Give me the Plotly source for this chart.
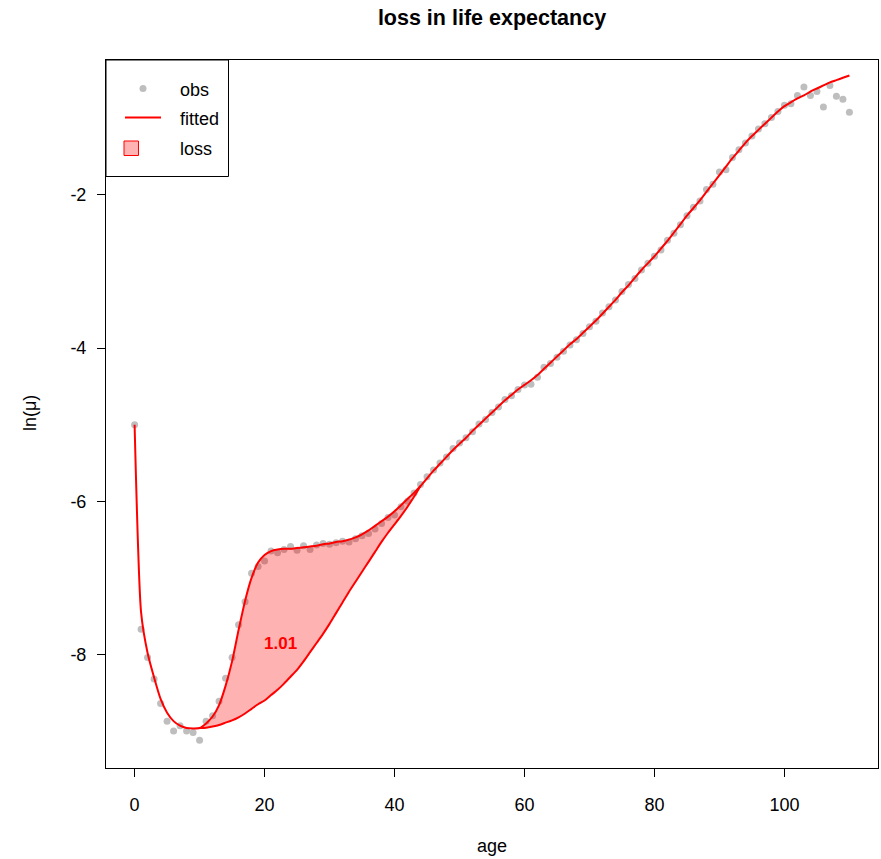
import plotly.graph_objects as go

# ---------------- data ----------------
ages = list(range(0, 111))

obs = [-5.00, -7.67, -8.04, -8.32, -8.64, -8.87, -9.00, -8.93, -9.00, -9.02,
       -9.12, -8.87, -8.80, -8.61, -8.31, -8.04, -7.61, -7.31, -6.94, -6.85,
       -6.78, -6.65, -6.67, -6.63, -6.59, -6.64, -6.58, -6.63, -6.57, -6.55,
       -6.56, -6.54, -6.52, -6.53, -6.49, -6.45, -6.42, -6.36, -6.29, -6.21,
       -6.18, -6.07, -6.00, -5.89, -5.78, -5.68, -5.59, -5.50, -5.42, -5.31,
       -5.24, -5.17, -5.09, -4.99, -4.93, -4.84, -4.77, -4.67, -4.62, -4.54,
       -4.48, -4.47, -4.38, -4.25, -4.20, -4.12, -4.04, -3.96, -3.89, -3.81,
       -3.72, -3.65, -3.54, -3.46, -3.37, -3.26, -3.17, -3.09, -2.98, -2.89,
       -2.80, -2.72, -2.59, -2.50, -2.39, -2.27, -2.16, -2.08, -1.93, -1.86,
       -1.70, -1.67, -1.51, -1.41, -1.32, -1.23, -1.14, -1.07, -0.99, -0.91,
       -0.83, -0.81, -0.70, -0.59, -0.70, -0.65, -0.85, -0.57, -0.71, -0.75,
       -0.92]

fitted = [-5.00, -7.45, -7.98, -8.30, -8.58, -8.76, -8.87, -8.93, -8.96, -8.965,
          -8.96, -8.90, -8.81, -8.66, -8.41, -8.09, -7.68, -7.30, -7.00, -6.80,
          -6.70, -6.65, -6.63, -6.62, -6.62, -6.61, -6.60, -6.59, -6.58, -6.56,
          -6.55, -6.53, -6.52, -6.50, -6.47, -6.43, -6.38, -6.32, -6.26, -6.20,
          -6.13, -6.05, -5.97, -5.89, -5.80, -5.70, -5.60, -5.51, -5.42, -5.33,
          -5.25, -5.17, -5.08, -5.00, -4.92, -4.84, -4.76, -4.68, -4.61, -4.54,
          -4.48, -4.42, -4.35, -4.27, -4.19, -4.11, -4.03, -3.95, -3.88, -3.80,
          -3.72, -3.64, -3.55, -3.46, -3.37, -3.27, -3.18, -3.08, -2.98, -2.89,
          -2.80, -2.70, -2.60, -2.49, -2.38, -2.27, -2.17, -2.07, -1.96, -1.85,
          -1.74, -1.63, -1.52, -1.42, -1.32, -1.23, -1.15, -1.07, -0.99, -0.91,
          -0.84, -0.79, -0.74, -0.70, -0.65, -0.61, -0.57, -0.53, -0.50, -0.47,
          -0.44]

# counterfactual (no-hump) curve over the loss region
loss_ages = list(range(10, 45))
loss_lower = [-8.96, -8.955, -8.94, -8.92, -8.89, -8.86, -8.82, -8.77, -8.71, -8.65,
              -8.60, -8.53, -8.46, -8.38, -8.29, -8.20, -8.09, -7.97, -7.85, -7.73,
              -7.60, -7.46, -7.32, -7.18, -7.05, -6.92, -6.79, -6.66, -6.53, -6.41,
              -6.30, -6.19, -6.07, -5.94, -5.80]
loss_upper = fitted[10:45]

loss_value = "1.01"
loss_label_pos = (22.4, -7.855)

x_ticks = [0, 20, 40, 60, 80, 100]
y_ticks = [-8, -6, -4, -2]

FONT = "Liberation Sans, Arial, sans-serif"
RED = "#FF0000"
GREY = "#BEBEBE"

fig = go.Figure()

fig.add_trace(go.Scatter(x=ages, y=obs, mode="markers",
                         marker=dict(color=GREY, size=7, line=dict(width=0)),
                         showlegend=False, hoverinfo="skip"))
fig.add_trace(go.Scatter(x=loss_ages, y=loss_lower, mode="lines",
                         line=dict(color=RED, width=2, shape="spline", smoothing=0.6),
                         showlegend=False, hoverinfo="skip"))
fig.add_trace(go.Scatter(x=loss_ages, y=loss_upper, mode="lines",
                         line=dict(color=RED, width=0, shape="spline", smoothing=0.6),
                         fill="tonexty", fillcolor="rgba(255,0,0,0.3)",
                         showlegend=False, hoverinfo="skip"))
fig.add_trace(go.Scatter(x=ages, y=fitted, mode="lines",
                         line=dict(color=RED, width=2, shape="spline", smoothing=0.6),
                         showlegend=False, hoverinfo="skip"))

# plot-area pixel geometry: left 106, right 878, top 60, bottom 768
L, R_, T, B = 106, 878, 60, 768
W, H = R_ - L, B - T


def px(x):
    return (x - L) / W


def py(y):
    return (B - y) / H


shapes = [
    # legend box
    dict(type="rect", xref="paper", yref="paper", x0=px(106), x1=px(228.5),
         y0=py(176.5), y1=1, line=dict(color="black", width=1),
         fillcolor="white", layer="above"),
    # legend obs dot
    dict(type="circle", xref="paper", yref="paper", x0=px(139.5), x1=px(146.5),
         y0=py(92), y1=py(85), line=dict(width=0), fillcolor=GREY, layer="above"),
    # legend fitted line
    dict(type="line", xref="paper", yref="paper", x0=px(125), x1=px(161),
         y0=py(117.5), y1=py(117.5), line=dict(color=RED, width=2), layer="above"),
    # legend loss square
    dict(type="rect", xref="paper", yref="paper", x0=px(124), x1=px(138.5),
         y0=py(155.5), y1=py(141), line=dict(color=RED, width=1),
         fillcolor="rgba(255,0,0,0.3)", layer="above"),
]

annotations = [
    dict(text="obs", x=px(178), y=py(90), xref="paper", yref="paper",
         xanchor="left", yanchor="middle", showarrow=False,
         font=dict(family=FONT, size=18, color="black")),
    dict(text="fitted", x=px(178), y=py(118.5), xref="paper", yref="paper",
         xanchor="left", yanchor="middle", showarrow=False,
         font=dict(family=FONT, size=18, color="black")),
    dict(text="loss", x=px(178), y=py(148.5), xref="paper", yref="paper",
         xanchor="left", yanchor="middle", showarrow=False,
         font=dict(family=FONT, size=18, color="black")),
    dict(text="<b>" + loss_value + "</b>", x=loss_label_pos[0], y=loss_label_pos[1],
         xref="x", yref="y", showarrow=False,
         font=dict(family=FONT, size=17, color=RED)),
    dict(text="age", x=0.5, y=py(846), xref="paper", yref="paper",
         xanchor="center", yanchor="middle", showarrow=False,
         font=dict(family=FONT, size=18, color="black")),
    dict(text="ln(μ)", x=px(30), y=py(413), xref="paper", yref="paper",
         xanchor="center", yanchor="middle", showarrow=False, textangle=-90,
         font=dict(family=FONT, size=18, color="black")),
]

fig.update_layout(
    width=881, height=859,
    margin=dict(l=L, r=881 - R_, t=T, b=859 - B, pad=0),
    paper_bgcolor="white", plot_bgcolor="white",
    title=dict(text="<b>loss in life expectancy</b>", x=0.5, xref="paper",
               y=1 - 17 / 859, yref="container", xanchor="center", yanchor="middle",
               font=dict(family=FONT, size=21.5, color="black")),
    shapes=shapes, annotations=annotations,
    showlegend=False,
    xaxis=dict(range=[-4.4, 114.4], tickvals=x_ticks, ticktext=[str(v) for v in x_ticks],
               showgrid=False, zeroline=False, showline=True, mirror=True,
               linecolor="black", linewidth=1, ticks="outside", ticklen=8,
               tickcolor="black", tickwidth=1, ticklabelstandoff=12,
               tickfont=dict(family=FONT, size=18, color="black")),
    yaxis=dict(range=[-9.482, -0.2376], tickvals=y_ticks, ticktext=[str(v) for v in y_ticks],
               showgrid=False, zeroline=False, showline=True, mirror=True,
               linecolor="black", linewidth=1, ticks="outside", ticklen=8,
               tickcolor="black", tickwidth=1, ticklabelstandoff=7,
               tickfont=dict(family=FONT, size=18, color="black")),
)

fig.write_html("out.html")
